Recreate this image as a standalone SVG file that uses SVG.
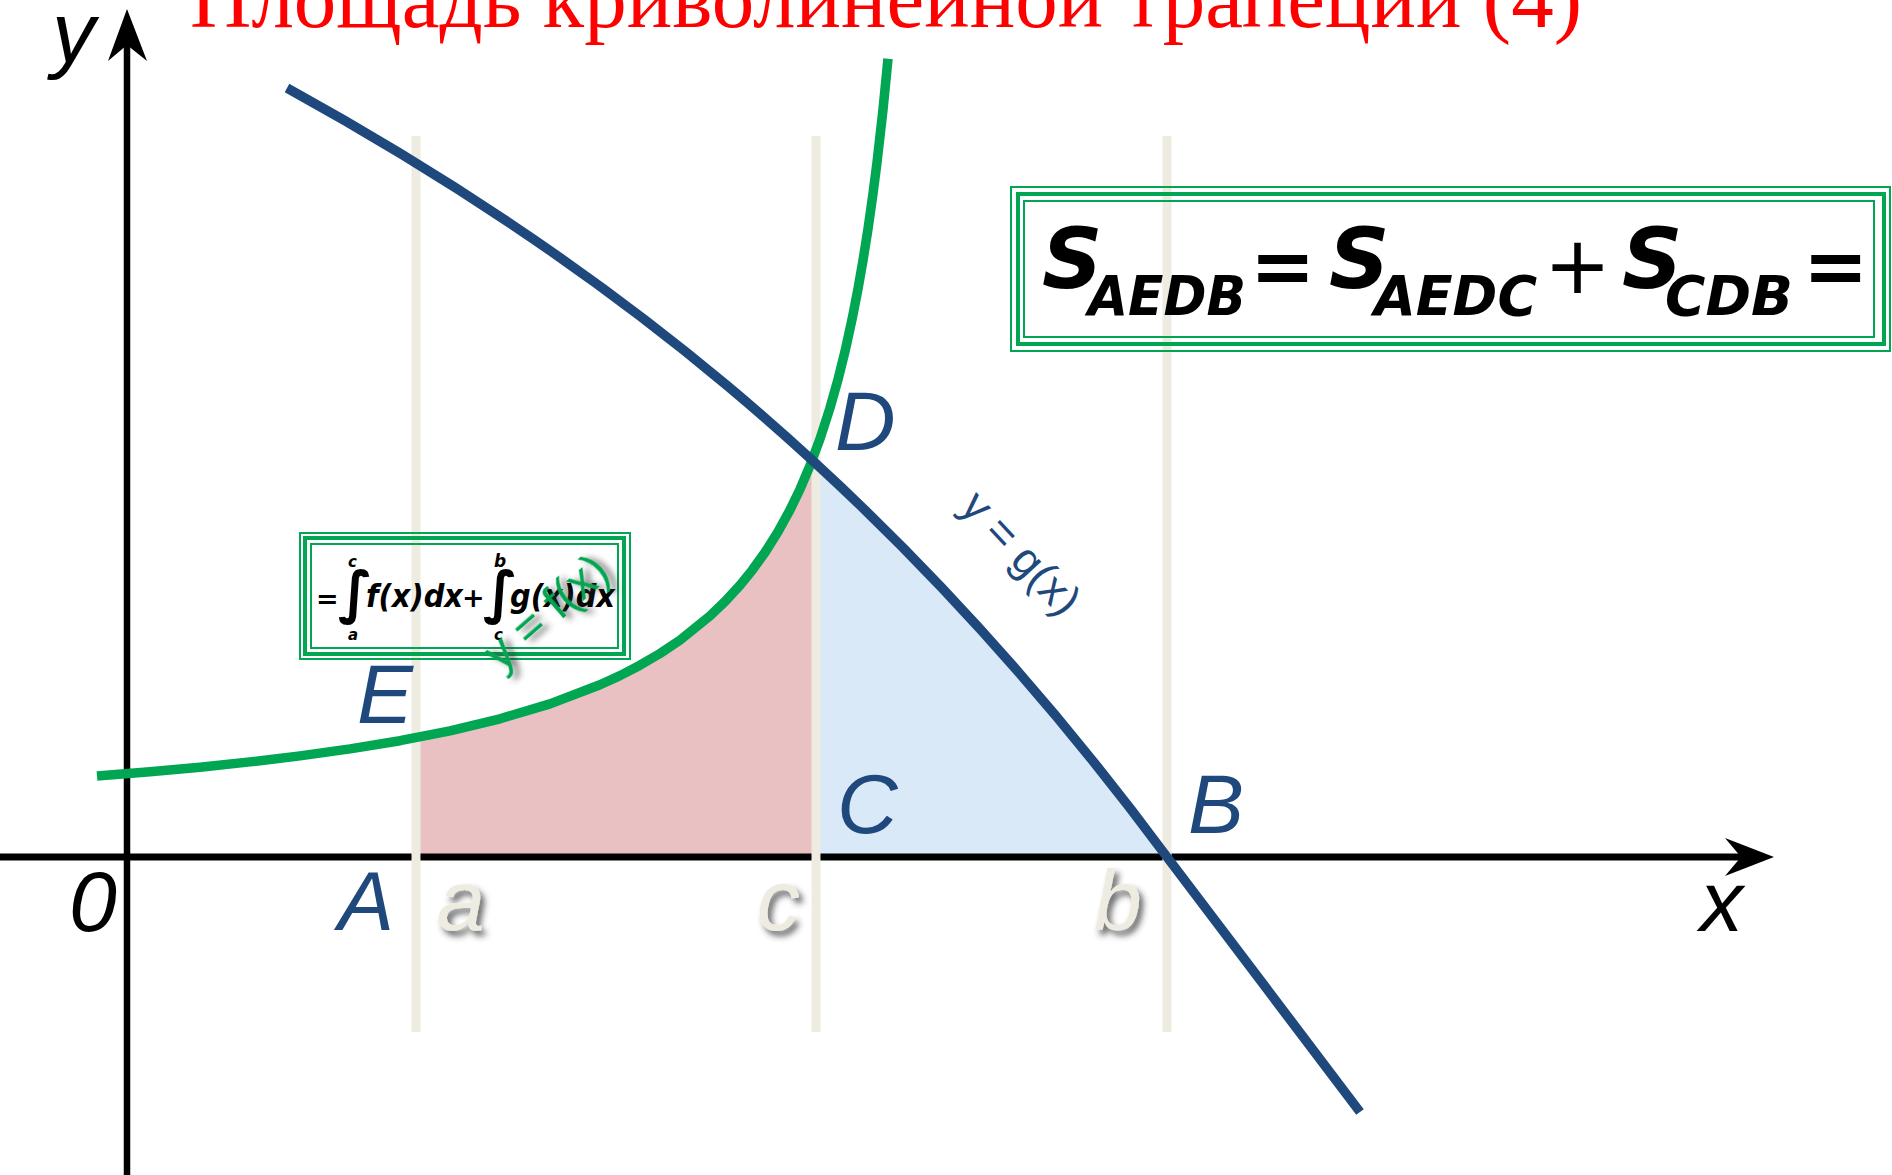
<svg xmlns="http://www.w3.org/2000/svg" width="1892" height="1175" viewBox="0 0 1892 1175">
<style>
.navy{fill:#1F497D;font-family:"Liberation Sans",Arial,sans-serif;font-style:italic;font-size:84px}
.blk{fill:#000;font-family:"Liberation Sans",Arial,sans-serif;font-style:italic;font-size:86px}
.lim{fill:#EEECE1;font-family:"Liberation Sans",Arial,sans-serif;font-style:italic;font-size:86px}
.fb{fill:#000;font-family:"DejaVu Sans",Verdana,sans-serif;font-weight:bold;font-style:oblique}
.guide{stroke:#EEECE1;stroke-width:9;fill:none}
.box1{fill:none;stroke:#00A651;stroke-width:2}
.box3{fill:none;stroke:#00A651;stroke-width:4}
</style>
<defs>
<filter id="sh" x="-30%" y="-30%" width="160%" height="160%">
<feDropShadow dx="4" dy="5" stdDeviation="3" flood-color="#333" flood-opacity="0.75"/>
</filter>
<clipPath id="clipB"><rect x="820" y="0" width="347" height="857"/></clipPath>
</defs>
<rect width="1892" height="1175" fill="#fff"/>

<g id="fills">
<polygon fill="#EAC1C3" points="416,857 416,737.7 450,730.8 500,718.8 550,703.9 600,684.8 620,675.6 640,665.2 660,653.5 680,640.1 710,615.9 725,601.5 740,585.2 752,570.4 765,552.4 778,531.7 790,509.9 800,489.2 810,465.7 816,450 816,857"/>
<path fill="#D9E9F8" clip-path="url(#clipB)" d="M287,88 C577,247.5 877,465.5 1167,857 L287,857 Z"/>
</g>

<g id="axes">
<line x1="0" y1="857" x2="1745" y2="857" stroke="#000" stroke-width="7"/>
<polygon points="1774,857 1725,838 1741,857 1725,876" fill="#000"/>
<line x1="127" y1="45" x2="127" y2="1175" stroke="#000" stroke-width="6.5"/>
<polygon points="127,9 108,61 127,45 147,61" fill="#000"/>
</g>

<g id="guides">
<line class="guide" x1="416" y1="136" x2="416" y2="1032"/>
<line class="guide" x1="816" y1="136" x2="816" y2="1032"/>
<line class="guide" x1="1167" y1="136" x2="1167" y2="1032"/>
</g>

<g id="curves">
<polyline fill="none" stroke="#00A651" stroke-width="9.5" stroke-linejoin="round" points="97,776 150,771.7 200,767.2 250,761.9 300,755.9 350,748.9 400,740.7 450,730.8 500,718.8 550,703.9 600,684.8 620,675.6 640,665.2 660,653.5 680,640.1 710,615.9 725,601.5 740,585.2 752,570.4 765,552.4 778,531.7 790,509.9 800,489.2 810,465.7 820,438.9 830,407.9 838,379.5 845,351.4 852,319.6 858,288.9 863,260.4 868,228.9 873,193.7 877,162.5 883,109.6 888,58.8"/>
<path fill="none" stroke="#1F497D" stroke-width="9.5" stroke-linejoin="round" d="M287,88 C577,247.5 877,465.5 1167,857 L1360,1112"/>
</g>

<text x="190" y="27" font-family="'Liberation Serif','Times New Roman',serif" font-size="84" fill="#FF0000" textLength="1392" lengthAdjust="spacingAndGlyphs">Площадь криволинейной трапеции (4)</text>

<g id="labels">
<text class="blk" x="52" y="62">y</text>
<text class="blk" x="1700" y="931">x</text>
<text class="blk" x="69" y="931">0</text>
<text class="navy" x="835" y="450">D</text>
<text class="navy" x="357" y="723">E</text>
<text class="navy" x="837" y="833">C</text>
<text class="navy" x="1188" y="833">B</text>
<text class="navy" x="338" y="930">A</text>
<g filter="url(#sh)">
<text class="lim" x="437" y="930">a</text>
<text class="lim" x="757" y="930">c</text>
<text class="lim" x="1094" y="930">b</text>
</g>
<text transform="translate(1021,553) rotate(47)" text-anchor="middle" dy="15" font-family="'Liberation Sans',Arial,sans-serif" font-size="45" fill="#1F497D">y = g(x)</text>
</g>

<g id="formula-main">
<rect class="box1" x="1011" y="187" width="879" height="164"/>
<rect class="box3" x="1018" y="194" width="866" height="150"/>
<rect class="box1" x="1024" y="201" width="850" height="136"/>
<text class="fb" x="1042" y="288" font-size="84">S</text>
<text class="fb" x="1088" y="315" font-size="55" textLength="158" lengthAdjust="spacingAndGlyphs">AEDB</text>
<text class="fb" x="1250" y="293" font-size="78">=</text>
<text class="fb" x="1329" y="288" font-size="84">S</text>
<text class="fb" x="1374" y="315" font-size="55" textLength="163" lengthAdjust="spacingAndGlyphs">AEDC</text>
<text x="1544" y="293" font-family="'DejaVu Sans',Verdana,sans-serif" font-size="80" fill="#000">+</text>
<text class="fb" x="1622" y="288" font-size="84">S</text>
<text class="fb" x="1665" y="315" font-size="55" textLength="128" lengthAdjust="spacingAndGlyphs">CDB</text>
<text class="fb" x="1803" y="293" font-size="78">=</text>
</g>

<g id="formula-integrals">
<rect class="box1" x="300" y="533" width="330" height="126"/>
<rect class="box3" x="305" y="538" width="319" height="116"/>
<rect class="box1" x="311" y="544" width="307" height="104"/>
<text class="fb" x="316" y="608" font-size="27">=</text>
<text class="fb" x="338" y="612" font-size="57">∫</text>
<text class="fb" x="348" y="567" font-size="15">c</text>
<text class="fb" x="348" y="640" font-size="15">a</text>
<text class="fb" x="366" y="607" font-size="32" textLength="97" lengthAdjust="spacingAndGlyphs">f(x)dx</text>
<text class="fb" x="462" y="607" font-size="27">+</text>
<text class="fb" x="483" y="612" font-size="57">∫</text>
<text class="fb" x="494" y="567" font-size="17">b</text>
<text class="fb" x="494" y="640" font-size="15">c</text>
<text class="fb" x="510" y="607" font-size="32" textLength="105" lengthAdjust="spacingAndGlyphs">g(x)dx</text>
<text transform="translate(546,612) rotate(-41)" text-anchor="middle" dy="16" font-family="'Liberation Sans',Arial,sans-serif" font-size="48" fill="#00A651" filter="url(#sh)">y = f(x)</text>
</g>
</svg>
